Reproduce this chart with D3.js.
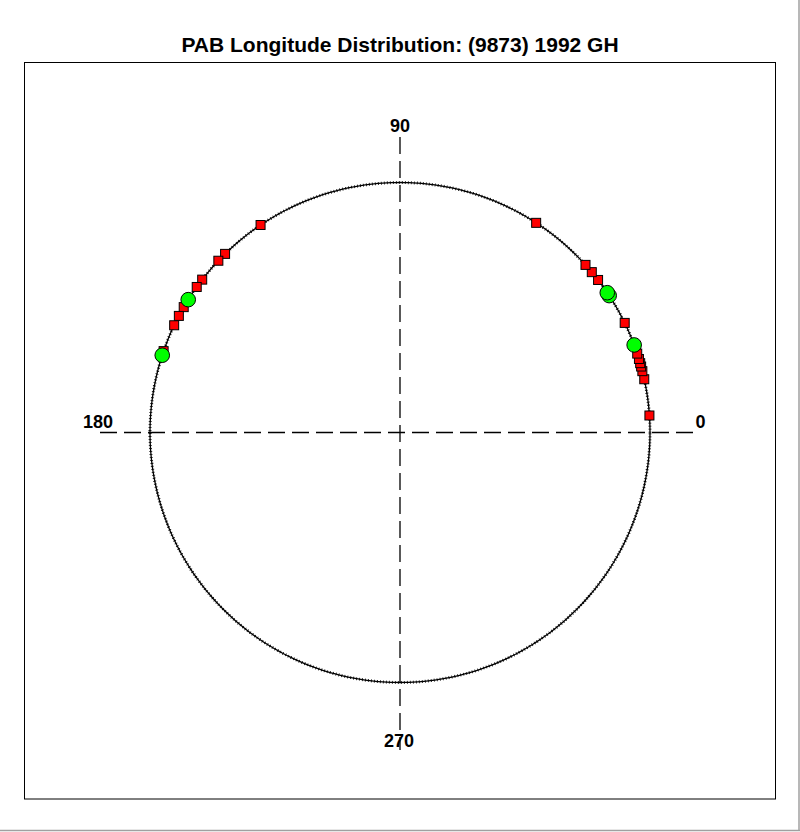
<!DOCTYPE html>
<html>
<head>
<meta charset="utf-8">
<script src="https://cdn.jsdelivr.net/npm/d3@7"></script>
<style>
html,body{margin:0;padding:0;background:#fff;}
svg{display:block;}
</style>
</head>
<body>
<script>
// ---- Data (degrees of PAB longitude) ----
const chartTitle = "PAB Longitude Distribution: (9873) 1992 GH";
const squareLongitudes = [3.9, 12.3, 14.2, 15.3, 16.1, 17.1, 18.4, 26.0, 37.6, 39.9, 42.1, 57.0,
                          123.9, 134.4, 136.6, 142.3, 144.4, 149.9, 152.2, 154.6, 161.0];
const circleLongitudes = [20.5, 33.2, 34.0, 147.9, 162.0];
const axisLabels = [{deg: 0, text: "0"}, {deg: 90, text: "90"}, {deg: 180, text: "180"}, {deg: 270, text: "270"}];

const W = 800, H = 832;
const cx = 400, cy = 432.5, R = 250;

const svg = d3.select("body").append("svg").attr("width", W).attr("height", H);

// window border look
svg.append("line").attr("x1", W - 1).attr("x2", W - 1).attr("y1", 0).attr("y2", 831)
  .attr("stroke", "#a0a0a0").attr("stroke-width", 1.5);
svg.append("line").attr("x1", 0).attr("x2", W).attr("y1", 830.5).attr("y2", 830.5)
  .attr("stroke", "#a0a0a0").attr("stroke-width", 1.5);

// frame
svg.append("rect").attr("x", 24.5).attr("y", 62.5).attr("width", 751).attr("height", 736.5)
  .attr("fill", "none").attr("stroke", "#000").attr("stroke-width", 1);

// title
svg.append("text").attr("x", 400).attr("y", 52).attr("text-anchor", "middle")
  .attr("font-family", "Arial, 'Liberation Sans', sans-serif").attr("font-weight", "bold")
  .attr("font-size", 21).text(chartTitle);

// scales: angle (degrees) -> radians, radius
const angle = d3.scaleLinear().domain([0, 360]).range([0, 2 * Math.PI]);
const rScale = d3.scaleLinear().domain([0, 1]).range([0, R]);
const px = (deg, r) => cx + rScale(r) * Math.cos(angle(deg));
const py = (deg, r) => cy - rScale(r) * Math.sin(angle(deg));

const g = svg.append("g");

// dashed axes
g.append("line").attr("x1", cx - 300).attr("x2", cx + 300).attr("y1", cy).attr("y2", cy)
  .attr("stroke", "#000").attr("stroke-width", 1.3).attr("stroke-dasharray", "17,7");
g.append("line").attr("x1", cx).attr("x2", cx).attr("y1", 137).attr("y2", 750)
  .attr("stroke", "#000").attr("stroke-width", 1.3).attr("stroke-dasharray", "17,7");

// circle
const circlePts = d3.range(0, 361, 1).map(d => [px(d, 1), py(d, 1)]);
const line = d3.line();
g.append("path").attr("d", line(circlePts)).attr("fill", "none")
  .attr("stroke", "#000").attr("stroke-width", 1.3);
g.append("path").attr("d", line(circlePts)).attr("fill", "none")
  .attr("stroke", "#000").attr("stroke-width", 3).attr("stroke-dasharray", "0.8,2.2");

// axis labels
const labelPos = {
  0: [700.5, 428], 90: [400, 132], 180: [98, 428], 270: [399, 747]
};
g.selectAll("text.ax").data(axisLabels).enter().append("text")
  .attr("class", "ax")
  .attr("x", d => labelPos[d.deg][0]).attr("y", d => labelPos[d.deg][1])
  .attr("text-anchor", "middle")
  .attr("font-family", "Arial, 'Liberation Sans', sans-serif").attr("font-weight", "bold")
  .attr("font-size", 18).text(d => d.text);

// squares
const sq = 9;
g.selectAll("rect.sq").data(squareLongitudes).enter().append("rect")
  .attr("class", "sq")
  .attr("x", d => px(d, 1) - sq / 2).attr("y", d => py(d, 1) - sq / 2)
  .attr("width", sq).attr("height", sq)
  .attr("fill", "#ff0000").attr("stroke", "#000").attr("stroke-width", 1);

// circles
g.selectAll("circle.gc").data(circleLongitudes).enter().append("circle")
  .attr("class", "gc")
  .attr("cx", d => px(d, 1)).attr("cy", d => py(d, 1)).attr("r", 7.3)
  .attr("fill", "#00ff00").attr("stroke", "#000").attr("stroke-width", 1);
</script>
</body>
</html>
